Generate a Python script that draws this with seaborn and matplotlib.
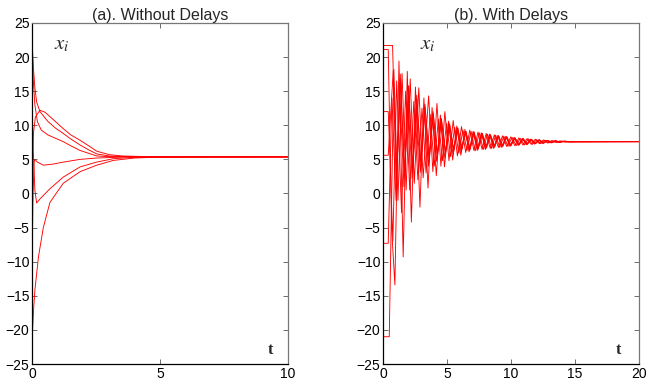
import seaborn as sns
import matplotlib
matplotlib.use("Agg")
import matplotlib.pyplot as plt
import pandas as pd

sns.set_theme(style="ticks")
plt.rcParams['font.family'] = ['Liberation Sans', 'DejaVu Sans']
plt.rcParams['mathtext.fontset'] = 'stix'

# ---- (a) without delays: six agents ----
a1_t = [0, 0.04, 0.1, 0.17, 0.3, 0.6, 0.9, 1.21, 1.5, 1.87, 2.2, 2.52, 3.0, 3.5, 4.5, 10]
a1_x = [21.7, 18.6, 15.5, 13.4, 12.0, 10.6, 9.6, 8.8, 8.0, 7.1, 6.4, 5.8, 5.5, 5.42, 5.38, 5.37]
a2_t = [0, 0.04, 0.1, 0.2, 0.35, 0.6, 0.9, 1.21, 1.5, 1.87, 2.52, 3.0, 4.5, 10]
a2_x = [21.2, 16.5, 13.0, 10.5, 9.3, 8.6, 8.1, 7.6, 7.0, 6.3, 5.5, 5.4, 5.37, 5.37]
a3_t = [0, 0.04, 0.1, 0.17, 0.3, 0.69, 1.21, 1.87, 2.52, 3.17, 4.0, 10]
a3_x = [12.0, 6.0, 0.5, -1.4, -0.8, 0.7, 2.4, 3.9, 4.6, 5.1, 5.3, 5.37]
a4_t = [0, 0.05, 0.12, 0.3, 0.5, 0.8, 1.21, 1.5, 1.87, 2.2, 2.52, 3.0, 3.5, 4.5, 10]
a4_x = [5.6, 9.0, 11.2, 12.2, 11.9, 10.9, 9.5, 8.6, 7.8, 7.0, 6.2, 5.7, 5.5, 5.4, 5.37]
a5_t = [0, 0.03, 0.07, 0.1, 0.2, 0.43, 0.8, 1.21, 1.87, 2.52, 3.5, 10]
a5_x = [-7.3, 0.0, 4.6, 5.0, 4.6, 4.15, 4.3, 4.6, 5.0, 5.2, 5.33, 5.37]
a6_t = [0, 0.05, 0.1, 0.24, 0.43, 0.69, 1.21, 1.87, 2.52, 3.17, 4.0, 5.0, 10]
a6_x = [-21.0, -17.0, -14.2, -9.3, -5.0, -1.3, 1.5, 3.2, 4.15, 4.85, 5.2, 5.33, 5.37]

# ---- (b) with delays: six agents, extrema ----
b1_t = [0, 0.39, 0.65, 0.91, 1.23, 1.56, 1.88, 2.20, 2.52, 2.87, 3.18, 3.50, 3.82, 4.15,
        4.47, 4.79, 5.11, 5.43, 5.75, 6.07, 6.39, 6.71, 7.03, 7.35, 7.67, 7.99, 8.31, 8.63,
        8.95, 9.27, 9.59, 9.91, 10.23, 10.55, 10.87, 11.19, 11.51, 11.83, 12.15, 12.47,
        12.79, 13.11, 13.43, 13.75, 14.07, 14.5, 15.0, 20]
b1_x = [21.1, 21.1, -5.0, -13.4, 19.4, -9.3, 17.9, -4.2, 15.6, -2.0, 14.0, 0.8, 12.6, 2.6,
        11.5, 3.9, 10.6, 4.9, 9.9, 5.6, 9.4, 6.1, 9.1, 6.3, 8.9, 6.45, 8.7, 6.6,
        8.5, 6.75, 8.4, 6.9, 8.2, 7.05, 8.05, 7.15, 7.95, 7.25, 7.85, 7.35,
        7.78, 7.42, 7.72, 7.5, 7.66, 7.56, 7.6, 7.6]
b2_t = [0, 0.47, 0.83, 1.15, 1.47, 1.79, 2.11, 2.43, 2.78, 3.12, 3.55, 3.88, 4.2, 4.51,
        4.82, 5.14, 5.47, 5.8, 6.12, 6.45, 6.77, 7.09, 7.41, 7.73, 8.05, 8.37, 8.69, 9.01,
        9.33, 9.65, 9.97, 10.29, 10.61, 10.93, 11.25, 11.57, 11.89, 12.21, 12.53, 12.85,
        13.17, 13.49, 13.81, 14.2, 14.7, 20]
b2_x = [-21.0, -21.0, 18.2, -1.0, 17.6, 0.5, 16.8, 1.5, 15.5, 2.3, 14.3, 3.2, 13.2, 4.0,
        12.0, 4.8, 10.7, 5.5, 9.8, 6.0, 9.3, 6.3, 9.0, 6.45, 8.8, 6.6, 8.6, 6.75,
        8.45, 6.9, 8.3, 7.0, 8.15, 7.1, 8.05, 7.2, 7.95, 7.3, 7.85, 7.4,
        7.75, 7.47, 7.7, 7.54, 7.62, 7.6]
b3_t = [0, 0.39, 0.55, 0.75, 1.05, 1.43, 1.75, 2.07, 2.39, 2.71, 3.03, 3.35, 3.67, 3.99,
        4.31, 4.63, 4.95, 5.27, 5.59, 5.91, 6.23, 6.55, 6.87, 7.19, 7.51, 7.83, 8.15, 8.47,
        8.79, 9.11, 9.43, 9.75, 10.07, 10.39, 10.71, 11.03, 11.35, 11.67, 11.99, 12.31,
        12.63, 12.95, 13.27, 13.59, 13.91, 14.3, 14.8, 20]
b3_x = [12.0, 12.0, 4.0, -7.0, 16.5, -2.8, 15.0, 0.5, 13.5, 2.0, 12.5, 3.0, 11.6, 4.0,
        10.9, 4.8, 10.3, 5.4, 9.7, 5.9, 9.3, 6.3, 9.1, 6.25, 8.9, 6.45, 8.7, 6.6,
        8.55, 6.75, 8.4, 6.9, 8.25, 7.0, 8.1, 7.1, 8.0, 7.2, 7.9, 7.3,
        7.82, 7.4, 7.74, 7.48, 7.68, 7.55, 7.61, 7.6]
b4_t = [0, 0.39, 0.78, 1.05, 1.35, 1.67, 1.99, 2.31, 2.63, 2.95, 3.27, 3.59, 3.91, 4.23,
        4.55, 4.87, 5.19, 5.51, 5.83, 6.15, 6.47, 6.79, 7.11, 7.43, 7.75, 8.07, 8.39, 8.71,
        9.03, 9.35, 9.67, 9.99, 10.31, 10.63, 10.95, 11.27, 11.59, 11.91, 12.23, 12.55,
        12.87, 13.19, 13.51, 13.83, 14.2, 14.7, 20]
b4_x = [5.6, 5.6, 18.0, 3.0, 16.5, 2.5, 15.0, 3.2, 13.8, 4.0, 12.7, 4.7, 11.7, 5.3,
        10.9, 5.8, 10.2, 6.2, 9.6, 6.5, 9.1, 6.4, 9.0, 6.5, 8.8, 6.65, 8.6, 6.8,
        8.45, 6.9, 8.3, 7.0, 8.15, 7.1, 8.05, 7.2, 7.95, 7.3, 7.85, 7.38,
        7.78, 7.45, 7.72, 7.5, 7.66, 7.57, 7.6]
b5_t = [0, 0.39, 0.68, 1.0, 1.3, 1.62, 1.94, 2.26, 2.58, 2.9, 3.22, 3.54, 3.86, 4.18,
        4.5, 4.82, 5.14, 5.46, 5.78, 6.1, 6.42, 6.74, 7.06, 7.38, 7.7, 8.02, 8.34, 8.66,
        8.98, 9.3, 9.62, 9.94, 10.26, 10.58, 10.9, 11.22, 11.54, 11.86, 12.18, 12.5,
        12.82, 13.14, 13.46, 13.78, 14.1, 14.6, 20]
b5_x = [-7.3, -7.3, 14.0, -1.0, 14.5, 1.0, 13.5, 2.2, 12.6, 3.1, 11.8, 4.0, 11.0, 4.7,
        10.4, 5.2, 9.9, 5.7, 9.4, 6.1, 9.0, 6.3, 9.0, 6.45, 8.8, 6.6, 8.6, 6.75,
        8.45, 6.9, 8.3, 7.0, 8.15, 7.1, 8.05, 7.2, 7.95, 7.28, 7.86, 7.36,
        7.79, 7.43, 7.73, 7.49, 7.67, 7.56, 7.6]
b6_t = [0, 0.73, 1.02, 1.33, 1.66, 1.98, 2.3, 2.62, 2.94, 3.26, 3.58, 3.9, 4.22, 4.54,
        4.86, 5.18, 5.5, 5.82, 6.14, 6.46, 6.78, 7.1, 7.42, 7.74, 8.06, 8.38, 8.7, 9.02,
        9.34, 9.66, 9.98, 10.3, 10.62, 10.94, 11.26, 11.58, 11.9, 12.22, 12.54, 12.86,
        13.18, 13.5, 13.82, 14.2, 14.7, 20]
b6_x = [21.7, 21.7, 0.5, 17.5, 2.8, 15.8, 3.8, 14.4, 4.6, 13.1, 5.2, 12.0, 5.7, 11.0,
        6.1, 10.2, 6.5, 9.6, 6.75, 9.1, 6.5, 9.0, 6.55, 8.8, 6.7, 8.6, 6.85, 8.45,
        6.95, 8.3, 7.05, 8.15, 7.15, 8.05, 7.22, 7.95, 7.3, 7.86, 7.38, 7.78,
        7.45, 7.72, 7.5, 7.66, 7.57, 7.6]

yticks = [-25, -20, -15, -10, -5, 0, 5, 10, 15, 20, 25]


def long_form(series):
    rows = []
    for k, (ts, xs) in enumerate(series):
        for t, x in zip(ts, xs):
            rows.append({"agent": k, "t": t, "x": x})
    return pd.DataFrame(rows)


df_a = long_form([(a1_t, a1_x), (a2_t, a2_x), (a3_t, a3_x),
                  (a4_t, a4_x), (a5_t, a5_x), (a6_t, a6_x)])
df_b = long_form([(b1_t, b1_x), (b2_t, b2_x), (b3_t, b3_x),
                  (b4_t, b4_x), (b5_t, b5_x), (b6_t, b6_x)])

fig = plt.figure(figsize=(6.54, 3.82), dpi=100)
ax_a = fig.add_axes([0.0494, 0.047, 0.391, 0.893])
ax_b = fig.add_axes([0.586, 0.047, 0.391, 0.893])

panels = [
    (ax_a, df_a, 10, [0, 5, 10], "(a). Without Delays", 1.15, 9.3),
    (ax_b, df_b, 20, [0, 5, 10, 15, 20], "(b). With Delays", 3.5, 18.4),
]

for ax, df, xmax, xticks, title, xi_pos, t_pos in panels:
    sns.lineplot(data=df, x="t", y="x", hue="agent", palette=["red"] * 6,
                 sort=False, estimator=None, legend=False, linewidth=0.65, ax=ax)
    ax.set_xlim(0, xmax)
    ax.set_ylim(-25, 25)
    ax.set_xticks(xticks)
    ax.set_yticks(yticks)
    ax.set_yticklabels([str(v).replace("-", "\u2212") for v in yticks])
    ax.set_xlabel("")
    ax.set_ylabel("")
    ax.tick_params(direction="in", top=True, right=True, length=3.5, width=0.6,
                   labelsize=10, pad=2, colors="#555555", labelcolor="black")
    for side in ["left", "bottom"]:
        ax.spines[side].set_color("black")
        ax.spines[side].set_linewidth(0.9)
    for side in ["top", "right"]:
        ax.spines[side].set_visible(True)
        ax.spines[side].set_color("#777777")
        ax.spines[side].set_linewidth(0.9)
    ax.set_title(title, fontsize=11.5, pad=2)
    ax.text(xi_pos, 21.8, r"$x_i$", fontsize=15, ha="center", va="center")
    ax.text(t_pos, -23.0, "t", fontsize=11.5, fontweight="bold",
            family="Liberation Serif", ha="center", va="center")

fig.savefig("out.png", dpi=100)
